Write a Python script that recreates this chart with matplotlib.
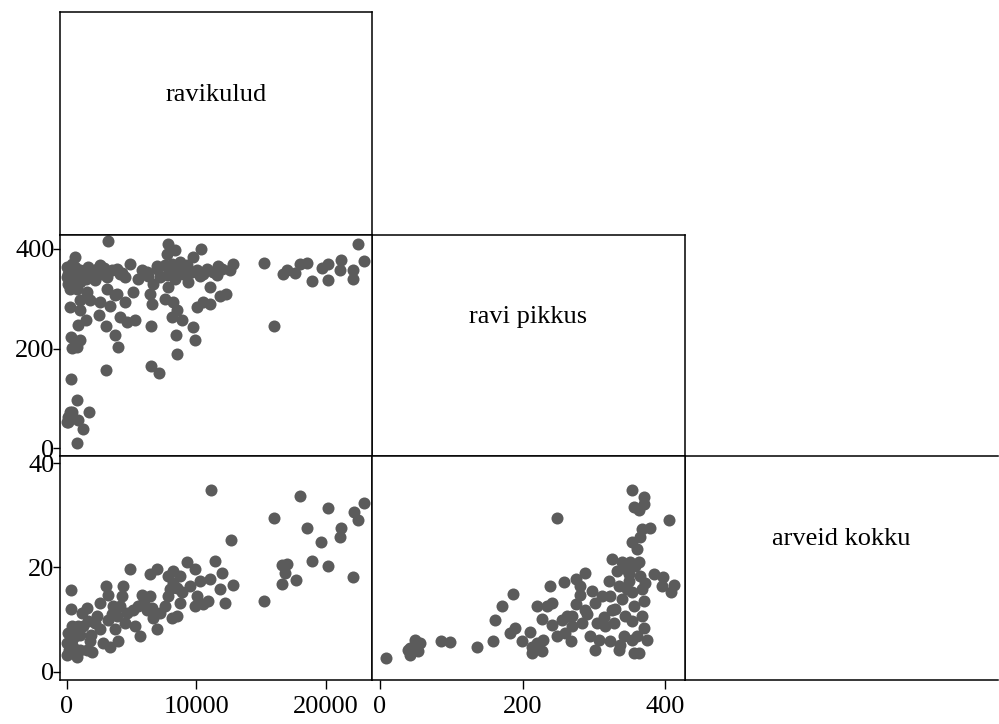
import matplotlib.pyplot as plt

# variable names on the diagonal
labels = ['ravikulud', 'ravi pikkus', 'arveid kokku']

# ravikulud (x) vs ravi pikkus (y)
kulud_a = [770, 100, 260, 0, 130, 390, 900, 1230, 820, 1750, 330,
           310, 720, 1030, 390, 770, 3030, 6480, 7090, 8480, 8430, 9920,
           9770, 3730, 3980, 3030, 6480, 15990, 1030, 1490, 900, 2520, 2570,
           3340, 3860, 4500, 4110, 4630, 5270, 5140, 6550, 6430, 7580, 8220,
           8480, 8100, 8870, 10020, 10540, 11050, 11050, 11820, 12280, 260,
           640, 390, 130, 1030, 390, 1030, 1540, 770, 260, 1930, 2570, 3080,
           3860, 4500, 4880, 5530, 3210, 6170, 6940, 6680, 7580, 7840, 7710,
           8350, 8100, 8740, 7840, 8350, 9000, 9380, 9770, 10330, 10020,
           10540, 11310, 11950, 12800, 12590, 15210, 16650, 16960, 17600,
           17990, 18500, 18890, 19660, 20170, 20170, 21070, 21130, 22100,
           22100, 22490, 22920, 50, 50, 130, 640, 1290, 1670, 2310, 2700,
           3470, 4110, 2190, 1800, 1030, 3080, 3730, 7200, 7710, 8740, 9250,
           9640, 10790, 11560, 500, 1500, 2000, 2900, 4300, 5800, 6300, 7000,
           8000, 9100, 10300, 11700]
pikkus_a = [10, 53, 73, 53, 63, 73, 57, 38, 97, 73, 139, 223, 213, 217,
            202, 203, 158, 165, 151, 189, 227, 218, 243, 227, 203, 245, 245,
            245, 277, 257, 247, 267, 293, 285, 310, 293, 263, 253, 258, 313,
            290, 310, 300, 293, 277, 263, 257, 283, 293, 290, 323, 305, 309,
            283, 383, 370, 350, 357, 337, 333, 313, 320, 320, 350, 367, 343,
            360, 343, 370, 340, 415, 353, 360, 330, 367, 410, 390, 398, 370,
            373, 323, 340, 350, 333, 383, 400, 357, 350, 353, 360, 369, 357,
            372, 350, 357, 352, 370, 372, 335, 362, 370, 337, 358, 378, 357,
            340, 410, 375, 363, 343, 330, 363, 350, 363, 360, 350, 357, 350,
            337, 297, 297, 320, 307, 343, 347, 357, 367, 353, 360, 347, 345,
            340, 355, 362, 352, 358, 345, 365, 352, 362, 345, 365]

# ravikulud (x) vs arveid kokku (y)
kulud_b = [11130, 17990, 22920, 20170, 22150, 22490, 15990, 18500, 21130,
           21070, 19580, 12640, 18890, 20120, 16580, 17010, 16830, 16580,
           17660, 22100, 15210, 12800, 12210, 11820, 11950, 11440, 11050,
           10280, 10920, 10540, 9890, 10020, 9890, 9300, 8870, 8740, 8480,
           8100, 8220, 7840, 8220, 8740, 7840, 7580, 6940, 6430, 6430, 6550,
           6940, 6680, 6170, 5780, 5530, 5650, 5270, 4880, 5140, 4630, 4370,
           4240, 4500, 3980, 3600, 3730, 3030, 3210, 3210, 3340, 2830, 2570,
           2570, 2190, 1930, 1800, 1540, 1160, 1030, 330, 310, 130, 0, 0, 770,
           510, 1030, 640, 1290, 390, 1670, 900, 640, 1540, 210, 2310, 3860,
           4110, 7200, 7970, 8500, 9500, 6000, 3500, 1900, 400]
arveid_b = [34.8, 33.7, 32.4, 31.4, 30.6, 29.2, 29.5, 27.6, 27.5, 25.8,
            24.8, 25.2, 21.2, 20.2, 20.5, 20.6, 19.0, 16.9, 17.6, 18.1, 13.5,
            16.6, 13.2, 15.8, 19.0, 21.2, 17.7, 17.4, 13.5, 12.9, 12.6, 14.5,
            19.7, 21.0, 15.2, 13.2, 10.6, 10.3, 17.1, 18.4, 19.4, 18.4, 14.5,
            12.6, 19.7, 18.7, 14.5, 12.3, 8.1, 10.3, 11.9, 14.8, 12.6, 6.8,
            8.7, 19.7, 11.9, 11.3, 16.4, 14.5, 9.4, 5.8, 12.6, 8.1, 16.4, 14.8,
            10.0, 4.8, 5.5, 13.2, 8.1, 9.4, 3.7, 5.8, 12.3, 11.3, 7.1, 15.6,
            12.1, 7.4, 5.5, 3.2, 2.9, 4.8, 4.2, 6.8, 8.7, 8.7, 9.7, 8.7, 4.2,
            4.2, 4.2, 10.6, 10.6, 12.6, 11.3, 15.8, 16.0, 16.5, 13.5, 11.0,
            7.0, 6.0]

# ravi pikkus (x) vs arveid kokku (y)
pikkus_c = [8, 42, 49, 56, 54, 42, 40, 86, 98, 136, 159, 161, 171, 187,
            183, 190, 199, 211, 213, 220, 227, 229, 213, 220, 227, 235, 242,
            238, 249, 249, 241, 258, 255, 262, 268, 269, 275, 281, 281, 275,
            288, 283, 290, 297, 302, 295, 302, 304, 307, 316, 321, 323, 325,
            323, 328, 332, 335, 337, 339, 339, 344, 349, 351, 353, 353, 356,
            353, 356, 353, 353, 356, 363, 360, 363, 370, 370, 365, 367, 379,
            363, 365, 367, 370, 367, 370, 375, 372, 360, 385, 397, 396, 406,
            409, 413, 342, 335, 325, 346, 311, 288, 260, 269, 345, 358, 330,
            350, 315]
arveid_c = [2.7, 4.5, 6.1, 5.5, 3.9, 3.2, 4.2, 5.8, 5.6, 4.8, 5.9, 10.0,
            12.7, 15.0, 7.5, 8.4, 5.8, 7.7, 3.5, 5.5, 3.9, 6.0, 4.8, 12.6,
            10.2, 12.6, 13.1, 16.4, 29.5, 6.8, 9.0, 17.3, 10.0, 10.6, 5.8, 8.7,
            17.7, 16.4, 14.8, 12.9, 19.0, 9.4, 11.0, 15.5, 13.2, 6.8, 4.2, 9.4,
            6.1, 8.7, 17.4, 14.5, 11.9, 5.8, 9.4, 19.4, 16.4, 5.2, 13.9, 21.0,
            10.6, 18.7, 21.0, 34.8, 24.8, 31.6, 15.2, 12.6, 9.7, 6.1, 3.5, 3.5,
            6.8, 31.0, 33.5, 32.2, 25.8, 27.4, 27.6, 21.0, 18.4, 15.8, 13.5,
            10.6, 8.4, 6.1, 17.1, 23.5, 18.8, 18.2, 16.4, 29.2, 15.2, 16.6, 6.8,
            4.2, 21.6, 15.8, 14.5, 11.9, 7.5, 10.6, 19.8, 20.2, 12.0, 17.5, 10.5]

kulud_ticks = [0, 10000, 20000]
pikkus_ticks = [0, 200, 400]
arveid_ticks = [0, 20, 40]

kulud_lim = (-517, 23548)
pikkus_xlim = (-11.2, 428)
pikkus_ylim = (-15.5, 428)
arveid_lim = (-1.6, 41.4)

W, H = 999, 724
col_edges = [60, 372, 685, 998]
row_edges = [12, 235, 456, 680]
dot_color = '#5b5b5b'
fsize = 19

plt.rcParams['font.family'] = ['Liberation Serif', 'DejaVu Serif']

fig = plt.figure(figsize=(W / 100, H / 100), dpi=100)


def make_ax(r, c):
    x0, x1 = col_edges[c], col_edges[c + 1]
    y0, y1 = row_edges[r], row_edges[r + 1]
    ax = fig.add_axes([x0 / W, 1 - y1 / H, (x1 - x0) / W, (y1 - y0) / H])
    for s in ax.spines.values():
        s.set_linewidth(1.1)
        s.set_color('black')
    ax.set_xticks([])
    ax.set_yticks([])
    ax.tick_params(axis='x', length=6.5, width=1, labelsize=fsize, pad=5)
    ax.tick_params(axis='y', length=5, width=1, labelsize=fsize, pad=-1)
    return ax


# diagonal label panels
for i, name in enumerate(labels):
    ax = make_ax(i, i)
    ax.text(0.5, 0.63, name, transform=ax.transAxes, ha='center',
            va='center', fontsize=fsize)
    if i == 2:
        ax.spines['right'].set_visible(False)

# ravikulud vs ravi pikkus
ax = make_ax(1, 0)
ax.scatter(kulud_a, pikkus_a, s=75, color=dot_color, linewidths=0)
ax.set_xlim(kulud_lim)
ax.set_ylim(pikkus_ylim)
ax.set_yticks(pikkus_ticks)

# ravikulud vs arveid kokku
ax = make_ax(2, 0)
ax.scatter(kulud_b, arveid_b, s=75, color=dot_color, linewidths=0)
ax.set_xlim(kulud_lim)
ax.set_ylim(arveid_lim)
ax.set_yticks(arveid_ticks)
ax.set_xticks(kulud_ticks)

# ravi pikkus vs arveid kokku
ax = make_ax(2, 1)
ax.scatter(pikkus_c, arveid_c, s=75, color=dot_color, linewidths=0)
ax.set_xlim(pikkus_xlim)
ax.set_ylim(arveid_lim)
ax.set_xticks(pikkus_ticks)

fig.savefig('out.png', dpi=100)
